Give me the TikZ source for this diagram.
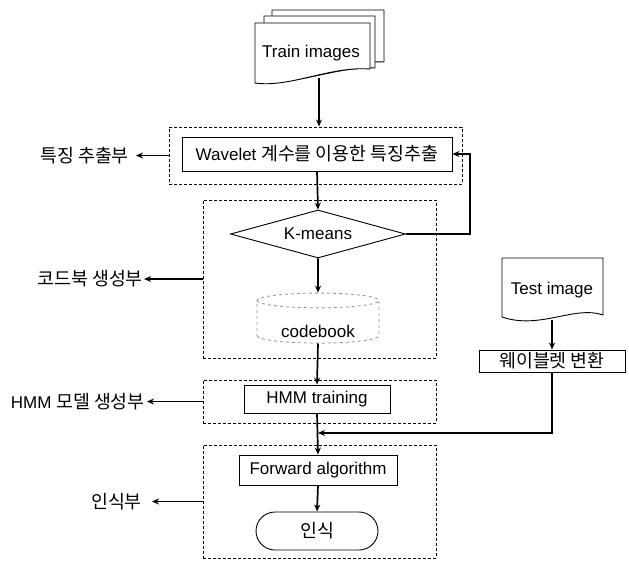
\documentclass[tikz,border=0pt]{standalone}
\usepackage{fontspec}
\setmainfont{Liberation Sans}
\newfontfamily\kr[Scale=1.08]{Noto Sans CJK KR}
\usetikzlibrary{shapes.geometric,arrows.meta}

\begin{document}
\begin{tikzpicture}[x=1pt,y=-1pt,
  font=\fontsize{17}{20}\selectfont,
  grp/.style={draw,line width=1pt,dash pattern=on 3pt off 2pt,inner sep=0pt},
  proc/.style={draw,line width=0.9pt,inner sep=0pt},
  doc/.style={draw,line width=0.9pt,fill=white},
  flow/.style={line width=1.7pt,-{Stealth[length=7pt,width=6pt]}},
  side/.style={line width=1.1pt,-{Stealth[length=7pt,width=6pt]}},
  sidelbl/.style={anchor=east,inner sep=0pt,inner xsep=#1}]
\useasboundingbox (0,0) rectangle (629,560);
% train image stack
\draw[doc] (272,10) -- (384,10) -- (384,62) .. controls (350,60) and (310,78) .. (272,76) -- cycle;
\draw[doc] (264,16) -- (375,16) -- (375,68) .. controls (340,66) and (300,84) .. (264,82) -- cycle;
\draw[doc] (255,23) -- (370,23) -- (370,69) .. controls (330,66) and (290,88) .. (255,83) -- cycle;
\node (train) at (311,53) {Train images};
\coordinate (trainbot) at (319,78);
% test image
\draw[doc] (502,258) -- (603,258) -- (603,315) .. controls (575,305) and (540,330) .. (502,317) -- cycle;
\node (test) at (552,290) {Test image};
\coordinate (testbot) at (552,320);
% groups
\node[grp,minimum width=293pt,minimum height=57pt] (grpfeat) at (315.5,155.5) {};
\node[grp,minimum width=233pt,minimum height=158pt] (grpcode) at (319.5,279) {};
\node[grp,minimum width=233pt,minimum height=43pt] (grphmm) at (319.5,401.5) {};
\node[grp,minimum width=233pt,minimum height=113pt] (grprec) at (319.5,501.5) {};
% blocks
\node[proc,minimum width=270pt,minimum height=34pt] (wavelet) at (317,154) {Wavelet {\kr 계수를 이용한 특징추출}};
\node[proc,diamond,aspect=3.8,minimum width=175pt,minimum height=48pt] (kmeans) at (318,234) {K-means};
\node[draw=black!40,dashed,line width=0.9pt,cylinder,shape border rotate=90,aspect=0.2,
  minimum width=122pt,minimum height=50pt,inner sep=0pt] (codebook) at (318,322) {\phantom{codebook}};
\node (cbtext) at (318,331) {codebook};
\node[proc,minimum width=146pt,minimum height=28pt] (hmm) at (317,399) {HMM training};
\node[proc,minimum width=158pt,minimum height=30pt] (forward) at (318,470) {Forward algorithm};
\node[proc,rounded corners=19pt,minimum width=122pt,minimum height=38pt] (recog) at (317,531) {\kr 인식};
\node[proc,minimum width=146pt,minimum height=22pt] (wtrans) at (552,361) {\kr 웨이블렛 변환};
% side labels
\node[sidelbl=7pt] (lblfeat) at (136,155.5) {\kr 특징 추출부};
\node[sidelbl=1pt] (lblcode) at (144,279) {\kr 코드북 생성부};
\node[sidelbl=2pt] (lblhmm) at (147,401.5) {HMM {\kr 모델 생성부}};
\node[sidelbl=10pt] (lblrec) at (152,501.5) {\kr 인식부};
\draw[side] (grpfeat.west) -- (lblfeat.east);
\draw[side] (grpcode.west) -- (lblcode.east);
\draw[side] (grphmm.west) -- (lblhmm.east);
\draw[side] (grprec.west) -- (lblrec.east);
% flow
\coordinate (fbturn) at (470,234);
\coordinate (merge) at (318,433);
\draw[flow] (trainbot) -- (trainbot |- grpfeat.north);
\draw[flow] (wavelet.south) -- (kmeans.north);
\draw[flow] (kmeans.east) -- (fbturn) |- (wavelet.east);
\draw[flow] (kmeans.south) -- (codebook.north);
\draw[flow] (codebook.south) -- (hmm.north);
\draw[flow] (hmm.south) -- (forward.north);
\draw[flow] (forward.south) -- (recog.north);
\draw[flow] (testbot) -- (wtrans.north);
\draw[flow] (wtrans.south) |- (merge);
\end{tikzpicture}
\end{document}
